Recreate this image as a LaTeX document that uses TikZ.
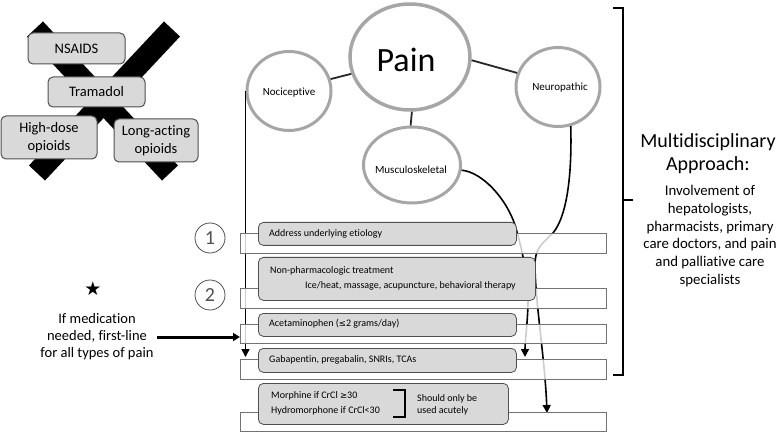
\documentclass[tikz,border=0pt]{standalone}
\usepackage{fontspec}
\setmainfont{Carlito}[Ligatures=NoCommon]
\newfontfamily\symf{DejaVu Sans}
\usetikzlibrary{arrows.meta,shapes.geometric}
\definecolor{boxgray}{HTML}{D9D9D9}
\definecolor{circgray}{HTML}{A6A6A6}
\definecolor{edgegray}{HTML}{505050}
\newcommand{\myge}{{\symf\fontsize{8.5}{10}\selectfont ≥}}
\newcommand{\myle}{{\symf\fontsize{8.5}{10}\selectfont ≤}}
\begin{document}
\begin{tikzpicture}[x=1pt,y=-1pt,
  pcirc/.style={ellipse, draw=circgray, line width=3pt, fill=white, inner sep=0pt},
  graybox/.style={draw=edgegray, line width=0.8pt, fill=boxgray, rounded corners=5pt, anchor=north west, inner sep=0pt},
  barbox/.style={draw=edgegray!80, line width=0.7pt, fill=white, fill opacity=0.8, anchor=north west, inner sep=0pt, minimum width=366pt},
  xbox/.style={draw=edgegray, line width=1pt, fill=boxgray, rounded corners=5pt, align=center, font=\fontsize{14.5}{17.5}\selectfont, inner sep=0pt},
  btext/.style={anchor=west, font=\fontsize{10}{12}\selectfont, inner sep=0pt},
  ctext/.style={font=\fontsize{11}{13}\selectfont, inner sep=0pt},
  link/.style={line width=1.8pt, draw=black!85},
  flow/.style={line width=1.6pt, -{Triangle[width=8pt,length=8pt]}},
  numc/.style={circle, draw=edgegray, line width=0.8pt, minimum size=30pt, inner sep=0pt, font=\fontsize{20}{20}\selectfont, text=edgegray}
]
\useasboundingbox (0,0) rectangle (780,433);
% --- crossed-out options ---
\coordinate (xa1) at (35,29);
\coordinate (xa2) at (170,173);
\coordinate (xb1) at (172,29);
\coordinate (xb2) at (37,173);
\draw[line width=22pt] (xa1) -- (xa2);
\draw[line width=22pt] (xb1) -- (xb2);
\node[xbox, minimum width=97pt, minimum height=31pt] (nsaid) at (76.5,48.5) {NSAIDS};
\node[xbox, minimum width=97pt, minimum height=30pt] (trama) at (96.5,92) {Tramadol};
\node[xbox, minimum width=96pt, minimum height=43pt] (hdose) at (49,137.5) {High-dose\\opioids};
\node[xbox, minimum width=84pt, minimum height=43pt] (lact) at (156,140.5) {Long-acting\\opioids};
% --- pain circles ---
\node[pcirc, line width=3.5pt, minimum width=120pt, minimum height=106pt] (pain) at (410,57) {};
\node[font=\fontsize{34}{34}\selectfont, inner sep=0pt] (painT) at (406,60) {Pain};
\node[pcirc, minimum width=84pt, minimum height=79pt] (noci) at (289,91) {};
\node[ctext] (nociT) at (289,93) {Nociceptive};
\node[pcirc, minimum width=84pt, minimum height=79pt] (neuro) at (558,87) {};
\node[ctext] (neuroT) at (560,88) {Neuropathic};
\node[pcirc, minimum width=97pt, minimum height=76pt] (musc) at (412,165) {};
\node[ctext] (muscT) at (411,170) {Musculoskeletal};
\draw[link] (pain.196) -- (noci.16);
\draw[link] (pain.-3) -- (neuro.161);
\draw[link] (pain.272) -- (musc.92);
% --- flows (drawn under the bars) ---
\coordinate (gabtip) at (525,357);
\coordinate (mortip) at (547,413);
\draw[flow] (noci.west) -- ([yshift=2pt]noci.west |- 0,359);
\draw[flow] (musc.-6) .. controls (482,172) and (506,198) .. (515,225)
   .. controls (521,245) and (528,275) .. (528,300)
   .. controls (528,320) and (525,340) .. (gabtip);
\draw[flow] (neuro.-72) .. controls (572,170) and (568,215) .. (553,233)
   .. controls (540,245) and (535,250) .. (535,265)
   .. controls (535,300) and (545,360) .. (mortip);
% --- bars ---
\node[barbox, minimum height=20pt] (bar1) at (240,233) {};
\node[barbox, minimum height=20pt] (bar2) at (240,288) {};
\node[barbox, minimum height=19pt] (bar3) at (240,324) {};
\node[barbox, minimum height=20pt] (bar4) at (240,359) {};
\node[barbox, minimum height=19pt] (bar5) at (240,412) {};
% --- grey step boxes ---
\node[graybox, minimum width=258pt, minimum height=23pt] (b1) at (258,222) {};
\node[graybox, minimum width=277pt, minimum height=43pt] (b2) at (258,257) {};
\node[graybox, minimum width=258pt, minimum height=23pt] (b3) at (258,313) {};
\node[graybox, minimum width=258pt, minimum height=24pt] (b4) at (258,348) {};
\node[graybox, minimum width=250pt, minimum height=41pt] (b5) at (258,383) {};
\node[btext] (t1) at (269,234) {Address underlying etiology};
\node[btext] (t2a) at (270,271) {Non-pharmacologic treatment};
\node[btext] (t2b) at (305,286) {Ice/heat, massage, acupuncture, behavioral therapy};
\node[btext] (t3) at (269,324) {Acetaminophen (\myle2 grams/day)};
\node[btext] (t4) at (269,360) {Gabapentin, pregabalin, SNRIs, TCAs};
\node[btext] (t5a) at (271,396) {Morphine if CrCl \myge30};
\node[btext] (t5b) at (271,411) {Hydromorphone if CrCl<30};
\node[btext] (t5c) at (417,399) {Should only be};
\node[btext] (t5d) at (417,411) {used acutely};
\coordinate (mb1) at (393,390);
\coordinate (mb2) at (405,390);
\coordinate (mb3) at (405,417);
\coordinate (mb4) at (393,417);
\draw[line width=2pt] (mb1) -- (mb2) -- (mb3) -- (mb4);
% --- step numbers ---
\node[numc] (n1) at (210,238) {1};
\node[numc] (n2) at (210,295) {2};
% --- star note ---
\node[font=\symf\fontsize{19}{19}\selectfont, inner sep=0pt] (star) at (93,289) {★};
\node[align=center, font=\fontsize{14.5}{17}\selectfont] (med) at (97,337) {If medication\\needed, first-line\\for all types of pain};
\draw[line width=3pt, -{Triangle[width=8pt,length=7pt]}] (med.east) -- (bar3.west |- med.east);
% --- bracket ---
\coordinate (br1) at (613,8);
\coordinate (br2) at (623,8);
\coordinate (br3) at (623,375);
\coordinate (br4) at (613,375);
\coordinate (brm) at (623,200);
\coordinate (brn) at (633,200);
\draw[line width=2.5pt] (br1) -- (br2) -- (br3) -- (br4);
\draw[line width=2.5pt] (brm) -- (brn);
\node[align=center, font=\fontsize{20}{23}\selectfont, inner sep=0pt] (multi) at (708,154) {Multidisciplinary\\Approach:};
\node[align=center, font=\fontsize{14.8}{17.8}\selectfont, inner sep=0pt] (invol) at (710,236) {Involvement of\\hepatologists,\\pharmacists, primary\\care doctors, and pain\\and palliative care\\specialists};
\end{tikzpicture}
\end{document}
